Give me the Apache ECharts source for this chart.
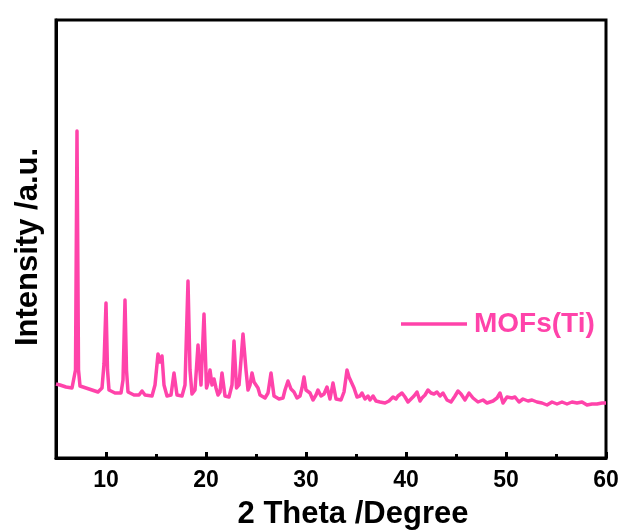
<!DOCTYPE html>
<html>
<head>
<meta charset="utf-8">
<title>MOFs(Ti) XRD</title>
<script src="https://cdn.jsdelivr.net/npm/echarts@6/dist/echarts.min.js"></script>
<style>
  html, body { margin: 0; padding: 0; background: #ffffff; }
  #chart { width: 622px; height: 531px; }
</style>
</head>
<body>
<div id="chart"></div>
<script>
// Powder XRD pattern of MOFs(Ti): 2θ in degrees, intensity in arbitrary units
const twoTheta = [
  5.0, 5.4, 6.0, 6.6, 6.8, 6.95, 7.1, 7.25, 7.4, 8.0, 8.6, 9.2, 9.6, 9.8, 10.0, 10.15, 10.3,
  10.9, 11.5, 11.7, 11.9, 12.05, 12.2, 12.8, 13.3, 13.6, 13.9, 14.6, 14.9, 15.2, 15.4, 15.6,
  15.8, 16.1, 16.5, 16.8, 17.1, 17.6, 17.9, 18.2, 18.4, 18.6, 18.9, 19.2, 19.5, 19.8, 20.05,
  20.2, 20.4, 20.6, 20.8, 21.0, 21.2, 21.4, 21.6, 21.9, 22.3, 22.6, 22.8, 23.05, 23.3, 23.5,
  23.7, 24.0, 24.2, 24.4, 24.6, 24.8, 25.0, 25.2, 25.4, 25.9, 26.2, 26.5, 26.8, 27.3, 27.7,
  27.9, 28.2, 28.5, 28.8, 29.1, 29.4, 29.6, 29.8, 30.0, 30.4, 30.7, 31.0, 31.2, 31.5, 31.8,
  32.1, 32.4, 32.7, 33.0, 33.5, 33.8, 34.1, 34.3, 34.5, 34.8, 35.1, 35.4, 35.6, 35.9, 36.2,
  36.4, 36.7, 37.0, 37.4, 37.9, 38.3, 38.7, 39.0, 39.2, 39.6, 39.9, 40.2, 40.5, 40.8, 41.1,
  41.4, 41.6, 41.9, 42.2, 42.5, 42.8, 43.1, 43.4, 43.7, 44.1, 44.5, 44.9, 45.2, 45.5, 45.9,
  46.3, 46.7, 47.2, 47.7, 48.1, 48.7, 49.1, 49.4, 49.7, 50.1, 50.6, 50.9, 51.3, 51.7, 52.2,
  52.6, 53.1, 53.6, 54.1, 54.6, 55.1, 55.6, 56.1, 56.6, 57.1, 57.6, 58.1, 58.6, 59.1, 59.6, 60.0
];
const intensity = [
  740, 730, 710, 700, 710, 880, 3270, 880, 720, 700, 680, 660, 700, 940, 1550, 880, 680,
  650, 650, 780, 1580, 880, 660, 630, 630, 670, 630, 620, 730, 1040, 960, 1020,
  730, 620, 630, 850, 630, 620, 730, 1770, 880, 640, 680, 1130, 730, 1440, 700,
  750, 880, 730, 790, 700, 630, 660, 850, 620, 610, 730, 1170, 700, 730, 980,
  1240, 880, 680, 730, 850, 760, 770, 700, 630, 600, 650, 850, 620, 590, 600,
  680, 770, 690, 660, 600, 620, 700, 810, 680, 650, 580, 630, 680, 620, 640,
  710, 590, 750, 590, 580, 660, 880, 810, 830, 700, 610, 620, 650, 590, 620,
  580, 620, 570, 560, 550, 570, 610, 590, 620, 650, 610, 560, 590, 620, 660,
  570, 600, 630, 680, 650, 640, 660, 620, 650, 580, 560, 620, 670, 640, 580,
  650, 600, 560, 580, 550, 570, 600, 650, 550, 610, 600, 610, 560, 590, 570,
  580, 560, 550, 530, 560, 540, 560, 540, 560, 550, 560, 530, 540, 540, 550, 550
];
const majorTicks = [10, 20, 30, 40, 50, 60];
const minorTicks = [15, 25, 35, 45, 55];
const seriesName = 'MOFs(Ti)';

const pink = '#FF43AA';
const fontFamily = '"Liberation Sans", Arial, sans-serif';

const chart = echarts.init(document.getElementById('chart'), null, { renderer: 'canvas' });

chart.setOption({
  animation: false,
  backgroundColor: '#ffffff',
  grid: {
    left: 56, right: 16, top: 20, bottom: 73,
    outerBoundsMode: 'none',
    containLabel: false,
    show: true, borderColor: '#000', borderWidth: 3, backgroundColor: 'transparent'
  },
  legend: {
    data: [{ name: seriesName, icon: 'rect' }],
    left: 396, top: 305,
    itemWidth: 66, itemHeight: 3.5, itemGap: 8,
    itemStyle: { color: pink, borderWidth: 0 },
    textStyle: { color: pink, fontSize: 28, fontWeight: 'bold', fontFamily: fontFamily, padding: [0, 0, 0, 2] }
  },
  xAxis: [
    {
      type: 'value', min: 5, max: 60, position: 'bottom',
      name: '2 Theta /Degree', nameLocation: 'middle', nameGap: 41,
      nameTextStyle: { color: '#000', fontSize: 31, fontWeight: 'bold', fontFamily: fontFamily,
        padding: [0, 0, 0, 44] },
      axisLine: { show: true, lineStyle: { color: '#000', width: 3 } },
      axisTick: { show: true, inside: true, length: 6, customValues: majorTicks,
        lineStyle: { color: '#000', width: 3 } },
      axisLabel: { show: true, customValues: majorTicks, margin: 11,
        color: '#000', fontSize: 23, fontWeight: 'bold', fontFamily: fontFamily },
      splitLine: { show: false }
    },
    {
      type: 'value', min: 5, max: 60, position: 'bottom',
      axisLine: { show: false },
      axisTick: { show: true, inside: true, length: 4, customValues: minorTicks,
        lineStyle: { color: '#000', width: 3 } },
      axisLabel: { show: false },
      splitLine: { show: false }
    }
  ],
  yAxis: {
    type: 'value', min: 0, max: 4380,
    name: 'Intensity /a.u.', nameLocation: 'middle', nameGap: 12,
    nameTextStyle: { color: '#000', fontSize: 31, fontWeight: 'bold', fontFamily: fontFamily,
      padding: [0, 16, 0, 0] },
    axisLine: { show: true, lineStyle: { color: '#000', width: 3 } },
    axisTick: { show: false },
    axisLabel: { show: false },
    splitLine: { show: false }
  },
  series: [{
    name: seriesName,
    type: 'line',
    xAxisIndex: 0,
    data: twoTheta.map((t, i) => [t, intensity[i]]),
    showSymbol: false,
    symbol: 'none',
    lineStyle: { color: pink, width: 3.5, join: 'round' },
    itemStyle: { color: pink }
  }]
});
</script>
</body>
</html>
